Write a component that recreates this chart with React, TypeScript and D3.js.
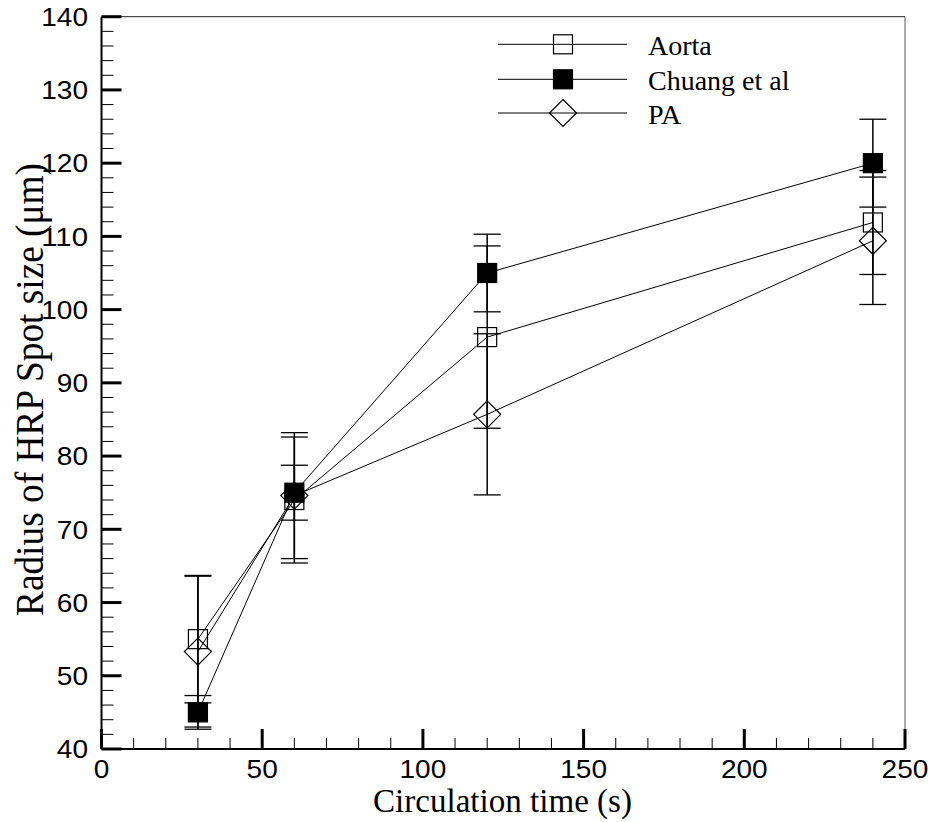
import React from "react";
import * as d3 from "d3";

const times = [30, 60, 120, 240];
const aorta = [55.0, 74.0, 96.25, 111.9];
const aortaErr = [8.7, 8.6, 12.45, 7.1];
const chuang = [45.0, 75.0, 105.0, 120.0];
const chuangErr = [2.3, 3.75, 5.3, 6.0];
const pa = [53.3, 74.6, 85.7, 109.4];
const paErr = [10.3, 8.6, 11.0, 8.7];

const seriesNames = ["Aorta", "Chuang et al", "PA"];
const seriesMarkers = ["openSquare", "filledSquare", "diamond"];
const seriesValues = [aorta, chuang, pa];
const seriesErrors = [aortaErr, chuangErr, paErr];

const xMajorTicks = [0, 50, 100, 150, 200, 250];
const yMajorTicks = [40, 50, 60, 70, 80, 90, 100, 110, 120, 130, 140];

const W = 931;
const H = 822;
const left = 101.5;
const right = 905;
const top = 16.7;
const bottom = 749;

function Marker({ kind, cx, cy }: { kind: string; cx: number; cy: number }) {
  const s = 19;
  if (kind === "diamond") {
    const r = 13.5;
    return (
      <path
        d={`M${cx},${cy - r}L${cx + r},${cy}L${cx},${cy + r}L${cx - r},${cy}Z`}
        fill="none"
        stroke="#000"
        strokeWidth={1.2}
      />
    );
  }
  return (
    <rect
      x={cx - s / 2}
      y={cy - s / 2}
      width={s}
      height={s}
      fill={kind === "filledSquare" ? "#000" : "none"}
      stroke="#000"
      strokeWidth={1.2}
    />
  );
}

export default function App() {
  const x = d3.scaleLinear().domain([0, 250]).range([left, right]);
  const y = d3.scaleLinear().domain([40, 140]).range([bottom, top]);
  const xMinor = d3.range(0, 251, 10).filter((v) => v % 50 !== 0);
  const yMinor = d3.range(40, 141, 2).filter((v) => v % 10 !== 0);
  const line = d3
    .line<[number, number]>()
    .x((d) => x(d[0]))
    .y((d) => y(d[1]));

  const legendRows = [44.3, 79.3, 113];

  return (
    <svg
      width={W}
      height={H}
      style={{ position: "absolute", left: 0, top: 0, background: "#fff" }}
    >
      {/* frame */}
      <line x1={left} x2={right} y1={top} y2={top} stroke="#222" strokeWidth={1} />
      <line x1={right} x2={right} y1={top} y2={bottom} stroke="#555" strokeWidth={1} />

      {/* series lines */}
      {seriesValues.map((vals, i) => (
        <path
          key={"l" + i}
          d={line(times.map((t, j) => [t, vals[j]] as [number, number])) || ""}
          fill="none"
          stroke="#000"
          strokeWidth={1}
        />
      ))}

      {/* error bars */}
      {seriesValues.map((vals, i) =>
        times.map((t, j) => {
          const cx = x(t);
          const y1 = y(vals[j] + seriesErrors[i][j]);
          const y2 = y(vals[j] - seriesErrors[i][j]);
          return (
            <g key={"e" + i + "-" + j} stroke="#000">
              <line x1={cx} x2={cx} y1={y1} y2={y2} strokeWidth={1.5} />
              <line x1={cx - 13.5} x2={cx + 13.5} y1={y1} y2={y1} strokeWidth={1.3} />
              <line x1={cx - 13.5} x2={cx + 13.5} y1={y2} y2={y2} strokeWidth={1.3} />
            </g>
          );
        })
      )}

      {/* markers */}
      {seriesValues.map((vals, i) =>
        times.map((t, j) => (
          <Marker key={"m" + i + "-" + j} kind={seriesMarkers[i]} cx={x(t)} cy={y(vals[j])} />
        ))
      )}

      {/* axes */}
      <line x1={left} x2={left} y1={top} y2={bottom} stroke="#000" strokeWidth={2} />
      <line x1={left} x2={right} y1={bottom} y2={bottom} stroke="#000" strokeWidth={2} />

      {xMinor.map((v) => (
        <line key={"xm" + v} x1={x(v)} x2={x(v)} y1={bottom} y2={bottom - 11} stroke="#000" strokeWidth={1} />
      ))}
      {xMajorTicks.map((v) => (
        <line key={"xM" + v} x1={x(v)} x2={x(v)} y1={bottom} y2={bottom - 20} stroke="#000" strokeWidth={3} />
      ))}
      {yMinor.map((v) => (
        <line key={"ym" + v} x1={left} x2={left + 12} y1={y(v)} y2={y(v)} stroke="#000" strokeWidth={1} />
      ))}
      {yMajorTicks.map((v) => (
        <line key={"yM" + v} x1={left} x2={left + 20} y1={y(v)} y2={y(v)} stroke="#000" strokeWidth={3} />
      ))}

      {/* tick labels */}
      <g fontFamily="'Liberation Sans', Arial, sans-serif" fontSize={25.5} fill="#000">
        {xMajorTicks.map((v) => (
          <text
            key={"xl" + v}
            x={x(v)}
            y={777.5}
            textAnchor="middle"
            textLength={String(v).length * 15.6}
            lengthAdjust="spacingAndGlyphs"
          >
            {v}
          </text>
        ))}
        {yMajorTicks.map((v) => (
          <text
            key={"yl" + v}
            x={88}
            y={y(v) + 9.3}
            textAnchor="end"
            textLength={String(v).length * 15.6}
            lengthAdjust="spacingAndGlyphs"
          >
            {v}
          </text>
        ))}
      </g>

      {/* axis titles */}
      <text
        x={373}
        y={812}
        fontFamily="'Liberation Serif', 'Times New Roman', serif"
        fontSize={33}
        textLength={259}
        lengthAdjust="spacingAndGlyphs"
      >
        Circulation time (s)
      </text>
      <text
        transform={`translate(43,616) rotate(-90)`}
        x={0}
        y={0}
        fontFamily="'Liberation Serif', 'Times New Roman', serif"
        fontSize={40}
        textLength={453}
        lengthAdjust="spacingAndGlyphs"
      >
        Radius of HRP Spot size (μm)
      </text>

      {/* legend */}
      {seriesNames.map((name, i) => (
        <g key={"lg" + i}>
          <line x1={498} x2={627} y1={legendRows[i]} y2={legendRows[i]} stroke="#000" strokeWidth={1} />
          <Marker kind={seriesMarkers[i]} cx={563} cy={legendRows[i]} />
          <text
            x={648}
            y={legendRows[i] + 10.5}
            fontFamily="'Liberation Serif', 'Times New Roman', serif"
            fontSize={28}
          >
            {name}
          </text>
        </g>
      ))}
    </svg>
  );
}
